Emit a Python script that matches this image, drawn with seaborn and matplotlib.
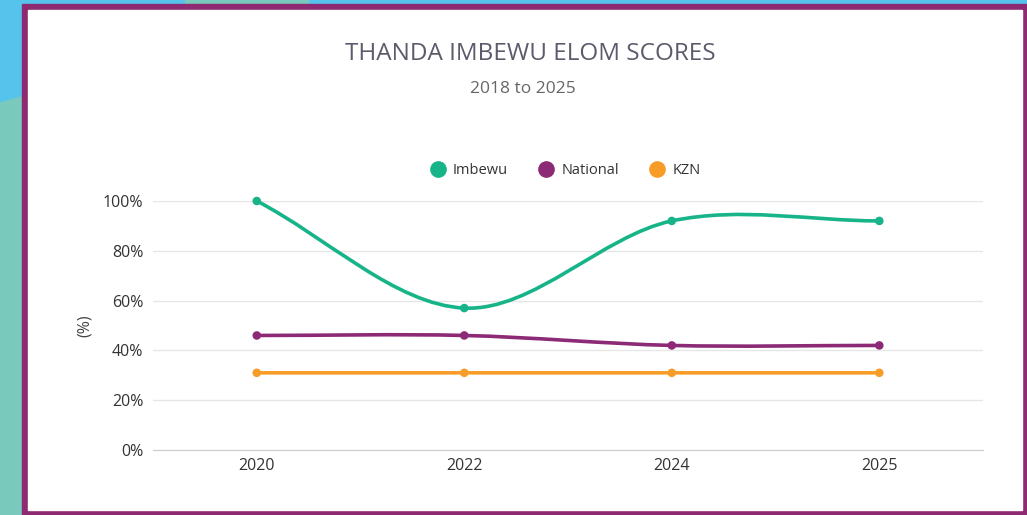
import numpy as np
import pandas as pd
import seaborn as sns
import matplotlib.pyplot as plt
from matplotlib.path import Path
from matplotlib.patches import PathPatch, Rectangle, Polygon
from matplotlib.lines import Line2D

years = ['2020', '2022', '2024', '2025']
imbewu = [100, 57, 92, 92]
national = [46, 46, 42, 42]
kzn = [31, 31, 31, 31]
series = ['Imbewu', 'National', 'KZN']
colors = ['#18b489', '#8c2a76', '#f89c28']

df = pd.DataFrame({
    'year': years * 3,
    'score': imbewu + national + kzn,
    'series': np.repeat(series, len(years)),
})

sns.set_style('white')
plt.rcParams['font.family'] = ['Open Sans', 'DejaVu Sans']

fig = plt.figure(figsize=(10.27, 5.15), dpi=100)
fig.patch.set_facecolor('#55c3ec')

# decorative background and purple frame
fig.patches.append(Polygon([[0, 0], [0, 0.80], [0.0214, 0.812], [0.0214, 0]],
                           transform=fig.transFigure, color='#79c9bd', zorder=-4))
fig.patches.append(Rectangle((0.18, 0.98), 0.12, 0.02, transform=fig.transFigure,
                             color='#79c9bd', zorder=-4))
fig.patches.append(Rectangle((0.0214, 0), 0.9786, 0.9922, transform=fig.transFigure,
                             color='#8e2a72', zorder=-3))
fig.patches.append(Rectangle((0.0273, 0.0097), 0.9678, 0.9709, transform=fig.transFigure,
                             color='white', zorder=-2))

fig.text(0.516, 0.896, 'THANDA IMBEWU ELOM SCORES', ha='center', va='center',
         fontsize=17.5, color='#5b5b6b')
fig.text(0.509, 0.827, '2018 to 2025', ha='center', va='center',
         fontsize=12.5, color='#666666')

ax = fig.add_axes([0.149, 0.1262, 0.8082, 0.4835])
ax.set_facecolor('none')

# smooth curves: cubic Bezier through each point, Catmull-Rom tangents
for vals, col in zip([imbewu, national, kzn], colors):
    y = np.array(vals, dtype=float)
    n = len(y)
    m = np.zeros(n)
    m[1:-1] = (y[2:] - y[:-2]) / 2
    m[0] = y[1] - y[0]
    m[-1] = y[-1] - y[-2]
    verts = [(0, y[0])]
    codes = [Path.MOVETO]
    for i in range(n - 1):
        verts += [(i + 1 / 3, y[i] + m[i] / 3), (i + 2 / 3, y[i + 1] - m[i + 1] / 3), (i + 1, y[i + 1])]
        codes += [Path.CURVE4] * 3
    ax.add_patch(PathPatch(Path(verts, codes), facecolor='none', edgecolor=col,
                           lw=2.6, zorder=3, clip_on=False))

sns.scatterplot(data=df, x='year', y='score', hue='series', palette=colors, s=38,
                edgecolor='none', ax=ax, zorder=4, clip_on=False, legend=False)

ax.set_xlim(-0.5, 3.5)
ax.set_ylim(0, 100)
ax.set_yticks(range(0, 101, 20))
ax.set_yticklabels([f'{v}%' for v in range(0, 101, 20)])
ax.yaxis.grid(True, color='#e6e6e6', lw=1)
ax.set_axisbelow(True)
for s in ['top', 'right', 'left']:
    ax.spines[s].set_visible(False)
ax.spines['bottom'].set_color('#cccccc')
ax.tick_params(axis='y', length=0, pad=7, labelsize=11.5, labelcolor='#333333')
ax.tick_params(axis='x', length=0, pad=6, labelsize=11.5, labelcolor='#333333')
ax.set_xlabel('')
ax.set_ylabel('(%)', fontsize=11.5, color='#444444')
ax.yaxis.set_label_coords(-0.072, 0.5)

handles = [Line2D([], [], marker='o', ls='', markersize=11, color=c) for c in colors]
ax.legend(handles, series, loc='center', bbox_to_anchor=(0.4925, 1.124), ncol=3,
          frameon=False, handletextpad=0.05, columnspacing=1.6, fontsize=10.5,
          labelcolor='#333333')

fig.savefig('out.png', dpi=100)
